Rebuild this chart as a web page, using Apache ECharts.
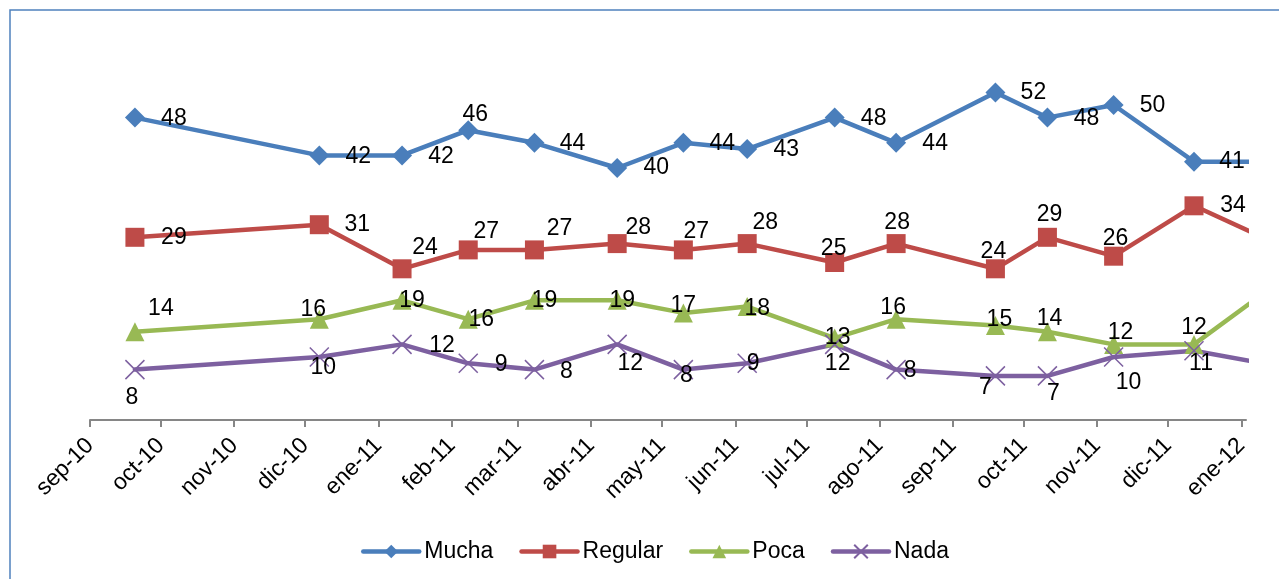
<!DOCTYPE html>
<html>
<head>
<meta charset="utf-8">
<script src="https://cdn.jsdelivr.net/npm/echarts@6/dist/echarts.min.js"></script>
<style>
  html, body { margin: 0; padding: 0; background: #fff; }
  #chart { width: 1279px; height: 579px; }
</style>
</head>
<body>
<div id="chart"></div>
<script>
// fechas de cada encuesta (la ultima cae fuera del area, igual que en el original)
const surveyDates = ['2010-09-20', '2010-12-07', '2011-01-11', '2011-02-08', '2011-03-08',
  '2011-04-12', '2011-05-10', '2011-06-06', '2011-07-13', '2011-08-08', '2011-09-19',
  '2011-10-11', '2011-11-08', '2011-12-12', '2012-01-10'];

const mucha = [48, 42, 42, 46, 44, 40, 44, 43, 48, 44, 52, 48, 50, 41, 41];
const regular = [29, 31, 24, 27, 27, 28, 27, 28, 25, 28, 24, 29, 26, 34, 29];
const poca = [14, 16, 19, 16, 19, 19, 17, 18, 13, 16, 15, 14, 12, 12, 20];
const nada = [8, 10, 12, 9, 8, 12, 8, 9, 12, 8, 7, 7, 10, 11, 9];

const tickLabels = ['sep-10', 'oct-10', 'nov-10', 'dic-10', 'ene-11', 'feb-11', 'mar-11',
  'abr-11', 'may-11', 'jun-11', 'jul-11', 'ago-11', 'sep-11', 'oct-11', 'nov-11',
  'dic-11', 'ene-12'];

// desplazamiento de cada etiqueta respecto a su punto (colocadas a mano en el original)
const muchaLabelOffsets = [[39, 1], [39, 1], [39, 1], [7, -16], [38, 1], [39, 0], [39, 1],
  [39, 1], [39, 1], [39, 1], [38, 0], [39, 1], [39, 1], [38, 0]];
const regularLabelOffsets = [[39, 0], [38, 0], [23, -21], [18, -18], [25, -21], [21, -16],
  [13, -18], [18, -21], [-1, -14], [1, -21], [-2, -17], [2, -23], [2, -18], [39, 0]];
const pocaLabelOffsets = [[26, -23], [-6, -10], [10, 0], [13, 0], [10, 0], [5, 0], [0, -7],
  [10, 2], [3, 0], [-3, -12], [4, -6], [2, -13], [7, -12], [0, -17]];
const nadaLabelOffsets = [[-3, 28], [4, 11], [40, 1], [33, 1], [32, 2], [13, 19], [3, 6],
  [6, 0], [3, 19], [14, 1], [-10, 12], [6, 18], [15, 26], [7, 13]];

const FONT = 'Liberation Sans, Arial, sans-serif';
const DAY = 86400000;

function toTime(s) {
  const p = s.split('-');
  return new Date(+p[0], +p[1] - 1, +p[2]).getTime();
}

const surveyTimes = surveyDates.map(toTime);
const tickTimes = tickLabels.map((_, i) => new Date(2010, 8 + i, 1).getTime());
const axisMin = tickTimes[0];
const axisMax = new Date(2012, 0, 3).getTime();

function labelFor(value) {
  for (let i = 0; i < tickTimes.length; i++) {
    if (Math.abs(tickTimes[i] - value) < DAY) return tickLabels[i];
  }
  return '';
}

function buildSeries(name, values, offsets, color, symbol, symbolSize, itemExtra) {
  return {
    name: name,
    type: 'line',
    symbol: symbol,
    symbolSize: symbolSize,
    clip: true,
    lineStyle: { color: color, width: 4.5, cap: 'round', join: 'round' },
    itemStyle: Object.assign({ color: color, borderWidth: 0 }, itemExtra || {}),
    label: {
      show: true,
      position: 'inside',
      color: '#000',
      fontSize: 23,
      fontFamily: FONT,
      textBorderWidth: 0
    },
    emphasis: { disabled: true },
    data: values.map((v, i) => ({
      value: [surveyTimes[i], v],
      label: offsets[i] ? { offset: offsets[i] } : { show: false }
    }))
  };
}

const myChart = echarts.init(document.getElementById('chart'));
myChart.setOption({
  backgroundColor: '#fff',
  animation: false,
  textStyle: { fontFamily: FONT },
  graphic: [{
    type: 'rect',
    silent: true,
    z: -10,
    shape: { x: 10, y: 10, width: 1300, height: 620 },
    style: { fill: 'none', stroke: '#4F81BD', lineWidth: 1.5 }
  }],
  grid: { left: 90, right: 33, top: 42, bottom: 159 },
  legend: {
    left: 356,
    top: 535,
    itemWidth: 56,
    itemHeight: 17,
    itemGap: 26,
    lineStyle: { width: 4.5 },
    textStyle: { fontSize: 23, color: '#000', fontFamily: FONT },
    data: ['Mucha', 'Regular', 'Poca', 'Nada']
  },
  xAxis: {
    type: 'value',
    min: axisMin,
    max: axisMax,
    splitLine: { show: false },
    axisLine: { show: true, lineStyle: { color: '#868686', width: 2 } },
    axisTick: { show: true, length: 7, customValues: tickTimes, lineStyle: { color: '#868686', width: 2 } },
    axisLabel: {
      customValues: tickTimes,
      rotate: 45,
      margin: 22,
      fontSize: 23,
      color: '#000',
      fontFamily: FONT,
      formatter: (value) => labelFor(value)
    }
  },
  yAxis: {
    type: 'value',
    min: 0,
    max: 60,
    show: false,
    splitLine: { show: false }
  },
  series: [
    buildSeries('Mucha', mucha, muchaLabelOffsets, '#4A7EBB', 'diamond', [20, 20]),
    buildSeries('Regular', regular, regularLabelOffsets, '#BE4B48', 'rect', 19),
    buildSeries('Poca', poca, pocaLabelOffsets, '#98B954', 'triangle', [19, 19]),
    buildSeries('Nada', nada, nadaLabelOffsets, '#7D60A0', 'path://M0,0L10,10M10,0L0,10', [19, 19],
      { borderColor: '#7D60A0', borderWidth: 1.5 })
  ]
});
</script>
</body>
</html>
